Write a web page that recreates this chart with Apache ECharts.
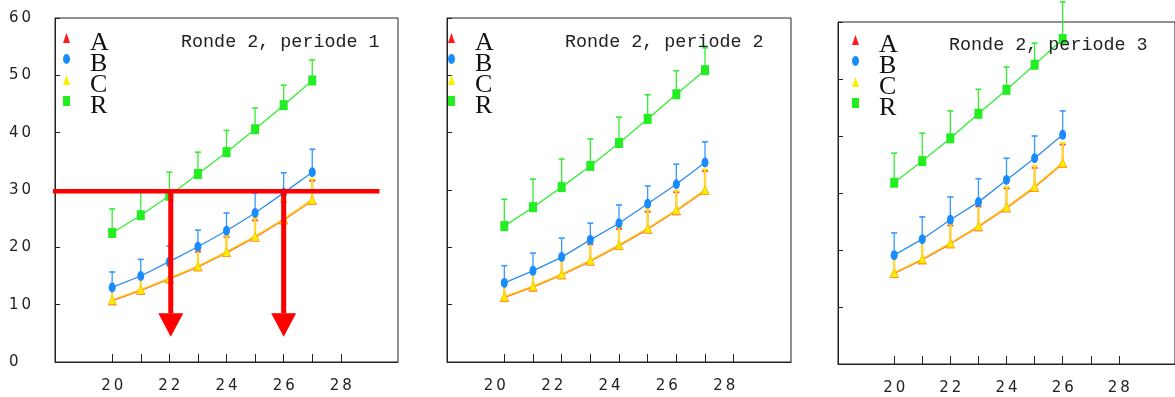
<!DOCTYPE html>
<html><head><meta charset="utf-8">
<script src="https://cdn.jsdelivr.net/npm/echarts@6/dist/echarts.min.js"></script>
<style>html,body{margin:0;padding:0;background:#fff}#c{width:1175px;height:397px}</style>
</head><body><div id="c"></div>
<script>
// ---- data ----
const xs12 = [20, 21, 22, 23, 24, 25, 26, 27];
const xs3 = [20, 21, 22, 23, 24, 25, 26];
const xTickValues = [20, 21, 22, 23, 24, 25, 26, 27, 28];
const xLabelValues = [20, 22, 24, 26, 28];
const panelTitles = ['Ronde 2, periode 1', 'Ronde 2, periode 2', 'Ronde 2, periode 3'];
const seriesNames = ['A', 'B', 'C', 'R'];

// panel 1
const a1 = [10.7, 12.5, 14.5, 16.6, 19.1, 21.8, 24.8, 28.2];
const a1Err = [12.8, 14.8, 16.8, 19.2, 21.8, 24.7, 27.9, 31.6];
const b1 = [13.0, 15.0, 17.5, 20.1, 22.9, 26.0, 29.5, 33.1];
const b1Err = [15.7, 17.9, 20.2, 23.0, 26.0, 29.5, 33.0, 37.1];
const c1 = [10.8, 12.6, 14.6, 16.7, 19.2, 21.9, 24.9, 28.3];
const c1Err = [13.0, 15.0, 17.1, 19.6, 22.0, 25.1, 28.2, 31.9];
const r1 = [22.5, 25.6, 29.0, 32.8, 36.6, 40.6, 44.8, 49.1];
const r1Err = [26.7, 30.0, 33.1, 36.6, 40.4, 44.3, 48.3, 52.7];

// panel 2
const a2 = [11.3, 13.1, 15.2, 17.6, 20.3, 23.2, 26.4, 29.9];
const a2Err = [13.9, 16.0, 18.0, 20.5, 23.2, 26.2, 29.6, 33.3];
const b2 = [13.8, 15.9, 18.3, 21.3, 24.2, 27.6, 31.0, 34.8];
const b2Err = [16.8, 19.0, 21.6, 24.2, 27.4, 30.7, 34.5, 38.4];
const c2 = [11.4, 13.2, 15.3, 17.7, 20.4, 23.3, 26.5, 30.0];
const c2Err = [14.1, 16.2, 18.3, 20.8, 23.5, 26.6, 29.9, 33.6];
const r2 = [23.7, 27.0, 30.5, 34.2, 38.2, 42.4, 46.7, 50.9];
const r2Err = [28.4, 31.9, 35.4, 38.9, 42.7, 46.6, 50.8, 54.8];

// panel 3
const a3 = [15.9, 18.3, 21.1, 24.1, 27.4, 31.0, 35.2];
const a3Err = [19.3, 21.6, 24.3, 27.6, 30.8, 34.4, 38.5];
const b3 = [19.1, 21.9, 25.3, 28.4, 32.3, 36.1, 40.2];
const b3Err = [23.0, 25.8, 29.3, 32.5, 36.1, 40.0, 44.4];
const c3 = [16.0, 18.4, 21.2, 24.2, 27.5, 31.1, 35.3];
const c3Err = [19.5, 21.8, 24.6, 27.9, 31.1, 34.8, 38.8];
const r3 = [31.8, 35.6, 39.6, 43.9, 48.1, 52.5, 57.0];
const r3Err = [37.0, 40.5, 44.4, 48.2, 52.1, 56.3, 63.5];

// annotation (panel 1)
const refLevel = 29.8;
const refLineX = [18, 29.35];
const arrowXs = [22.05, 26.0];
const arrowBaseY = 8.5;
const arrowTipY = 4.4;

// ---- build ----
const panels = [
  {xs: xs12, A: a1, AE: a1Err, B: b1, BE: b1Err, C: c1, CE: c1Err, R: r1, RE: r1Err},
  {xs: xs12, A: a2, AE: a2Err, B: b2, BE: b2Err, C: c2, CE: c2Err, R: r2, RE: r2Err},
  {xs: xs3, A: a3, AE: a3Err, B: b3, BE: b3Err, C: c3, CE: c3Err, R: r3, RE: r3Err}
];
const grids = [
  {left: 55, top: 18, width: 343, height: 344},
  {left: 447, top: 18, width: 344, height: 344},
  {left: 838, top: 22, width: 343, height: 342}
];
const legendPos = [{left: 63, top: 20}, {left: 448, top: 20}, {left: 852, top: 22}];
const titlePos = [{left: 181, top: 33}, {left: 565, top: 33}, {left: 949, top: 36}];

const COL = {A: '#ff1a1a', B: '#1a8cff', C: '#ffee00', R: '#22ee22'};
const ellipse = 'path://M5 0A5 7 0 1 0 5 14A5 7 0 1 0 5 0Z';
const spaced = v => String(v).split('').join('\u2009');
const zip = (xs, ys) => xs.map((x, i) => [x, ys[i]]);
const zip3 = (xs, ys, es) => xs.map((x, i) => [x, ys[i], es[i]]);

function errRender(color, stemW, capW, capColor) {
  return function (params, api) {
    const x = api.value(0), y0 = api.value(1), y1 = api.value(2);
    const p0 = api.coord([x, y0]), p1 = api.coord([x, y1]);
    return {type: 'group', children: [
      {type: 'line', shape: {x1: p0[0], y1: p0[1], x2: p1[0], y2: p1[1]}, style: {stroke: color, lineWidth: stemW}},
      {type: 'line', shape: {x1: p1[0] - capW / 2, y1: p1[1], x2: p1[0] + capW / 2, y2: p1[1]}, style: {stroke: capColor || color, lineWidth: 1.6}}
    ]};
  };
}

const series = [];
panels.forEach((p, i) => {
  const ax = {xAxisIndex: i, yAxisIndex: i};
  series.push(Object.assign({type: 'custom', name: 'R err', data: zip3(p.xs, p.R, p.RE),
    renderItem: errRender('#33ee33', 1.3, 6), clip: false, silent: true}, ax));
  series.push(Object.assign({type: 'line', name: 'R', data: zip(p.xs, p.R), symbol: 'rect', symbolSize: [8, 10],
    itemStyle: {color: COL.R}, lineStyle: {color: '#33ee33', width: 1.3}, animation: false}, ax));
  series.push(Object.assign({type: 'custom', name: 'B err', data: zip3(p.xs, p.B, p.BE),
    renderItem: errRender('#3399ff', 1.3, 6), clip: false, silent: true}, ax));
  series.push(Object.assign({type: 'line', name: 'B', data: zip(p.xs, p.B), symbol: ellipse, symbolSize: [7, 10],
    itemStyle: {color: COL.B}, lineStyle: {color: '#2b8ef0', width: 1.3}, animation: false}, ax));
  series.push(Object.assign({type: 'custom', name: 'A err', data: zip3(p.xs, p.A, p.AE),
    renderItem: errRender('#ff3030', 1.5, 6), clip: false, silent: true}, ax));
  series.push(Object.assign({type: 'line', name: 'A', data: zip(p.xs, p.A), symbol: 'triangle', symbolSize: [9, 9],
    itemStyle: {color: COL.A}, lineStyle: {color: '#ff2a00', width: 1.5}, animation: false}, ax));
  series.push(Object.assign({type: 'custom', name: 'C err', data: zip3(p.xs, p.C, p.CE),
    renderItem: errRender('#ffd83a', 2.4, 6, '#ffe000'), clip: false, silent: true}, ax));
  series.push(Object.assign({type: 'line', name: 'C', data: zip(p.xs, p.C), symbol: 'triangle', symbolSize: [8, 9],
    itemStyle: {color: COL.C, borderColor: '#ffbf00', borderWidth: 0.6}, lineStyle: {color: '#ffcc1a', width: 1.6}, animation: false}, ax));
});

// annotations on panel 1
series.push({type: 'custom', name: 'arrows', xAxisIndex: 0, yAxisIndex: 0, silent: true, clip: false, z: 10,
  data: arrowXs.map(x => [x, refLevel, arrowBaseY, arrowTipY]),
  renderItem: function (params, api) {
    const top = api.coord([api.value(0), api.value(1)]);
    const base = api.coord([api.value(0), api.value(2)]);
    const tip = api.coord([api.value(0), api.value(3)]);
    return {type: 'group', children: [
      {type: 'line', shape: {x1: top[0], y1: top[1], x2: base[0], y2: base[1]}, style: {stroke: '#ff0000', lineWidth: 5}},
      {type: 'polygon', shape: {points: [[base[0] - 12.5, base[1]], [base[0] + 12.5, base[1]], [tip[0], tip[1]]]}, style: {fill: '#ff0000'}}
    ]};
  }});
series.push({type: 'custom', name: 'ref', xAxisIndex: 0, yAxisIndex: 0, silent: true, clip: false, z: 11,
  data: [[refLineX[0], refLineX[1], refLevel]],
  renderItem: function (params, api) {
    const a = api.coord([api.value(0), api.value(2)]);
    const b = api.coord([api.value(1), api.value(2)]);
    return {type: 'line', shape: {x1: a[0] - 2, y1: a[1], x2: b[0], y2: b[1]}, style: {stroke: '#ff0000', lineWidth: 4.5}};
  }});

const legendIcons = {A: 'triangle', B: ellipse, C: 'triangle', R: 'rect'};
const option = {
  animation: false,
  backgroundColor: '#fff',
  title: panelTitles.map((t, i) => Object.assign({text: t, padding: 0,
    textStyle: {fontFamily: 'Liberation Mono', fontSize: 18.4, fontWeight: 'normal', color: '#222'}}, titlePos[i])),
  legend: legendPos.map(pos => Object.assign({orient: 'vertical', padding: 0, itemGap: -15, itemWidth: 7, itemHeight: 10,
    selectedMode: false,
    formatter: n => '{t|' + n + '}',
    textStyle: {rich: {t: {fontFamily: 'Liberation Serif', fontSize: 26, color: '#111', lineHeight: 11, padding: [10, 0, 0, 15]}}},
    data: seriesNames.map(n => ({name: n, icon: legendIcons[n], itemStyle: {color: COL[n], borderWidth: 0}}))}, pos)),
  grid: grids.map(g => Object.assign({show: true, borderColor: '#222', borderWidth: 1, backgroundColor: 'transparent'}, g)),
  xAxis: grids.map((g, i) => ({type: 'value', gridIndex: i, min: 18, max: 30, interval: 1,
    axisLine: {onZero: false, lineStyle: {color: '#222', width: 1}},
    axisTick: {inside: true, length: 8, customValues: xTickValues, lineStyle: {color: '#222'}},
    axisLabel: {customValues: xLabelValues, margin: 17, fontFamily: 'DejaVu Sans', fontSize: 15, color: '#222',
      formatter: spaced, padding: i === 1 ? [0, 19, 0, 0] : 0},
    splitLine: {show: false}})),
  yAxis: grids.map((g, i) => ({type: 'value', gridIndex: i, min: 0, max: 60, interval: 10,
    axisLine: {onZero: false, lineStyle: {color: '#222', width: 1}},
    axisTick: {inside: true, length: 5, lineStyle: {color: '#222'}},
    axisLabel: {show: i === 0, align: 'left', margin: 46, fontFamily: 'DejaVu Sans', fontSize: 15, color: '#222', formatter: spaced},
    splitLine: {show: false}})),
  series: series
};
const chart = echarts.init(document.getElementById('c'));
chart.setOption(option);
</script></body></html>
